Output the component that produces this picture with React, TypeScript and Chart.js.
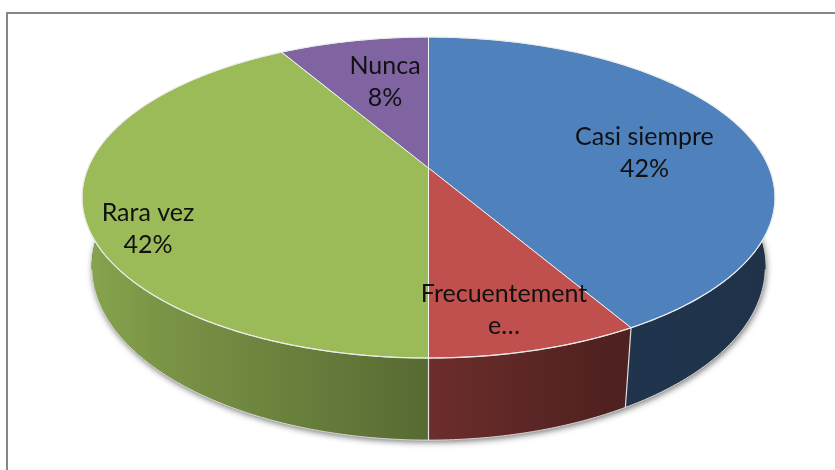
import React, { useEffect, useRef } from 'react';
import { Chart, registerables } from 'chart.js';

Chart.register(...registerables);

const categories = ['Casi siempre', 'Frecuentemente', 'Rara vez', 'Nunca'];
const counts = [5, 1, 5, 1];
const labelLines = [
  ['Casi siempre', '42%'],
  ['Frecuentement', 'e…'],
  ['Rara vez', '42%'],
  ['Nunca', '8%'],
];
const topColors = ['#4F81BD', '#C0504D', '#9BBB59', '#8064A2'];

// perspective projection of the pie disc (relative to the arc radius)
const A_RATIO = 340.6 / 131;
const B_RATIO = 155.1 / 131;
const PERSP = 0.1838;
const DEPTH_RATIO = 67 / 131;
const BOTTOM_X_SCALE = 0.972;
const LABEL_ANCHORS = [
  [0.634, -0.097],
  [0.2217, 0.9156],
  [-0.8236, 0.3933],
  [-0.1277, -0.5577],
];
const SIDE_STOPS: [number, number][] = [
  [0, 0.88],
  [0.1, 0.8],
  [0.49, 0.57],
  [0.76, 0.41],
  [1, 0.39],
];

function shade(hex: string, f: number) {
  const n = parseInt(hex.slice(1), 16);
  const r = Math.round(((n >> 16) & 255) * f);
  const g = Math.round(((n >> 8) & 255) * f);
  const b = Math.round((n & 255) * f);
  return `rgb(${r},${g},${b})`;
}

const pie3d = {
  id: 'pie3d',
  beforeDatasetsDraw(chart: any) {
    const ctx: CanvasRenderingContext2D = chart.ctx;
    const arcs = chart.getDatasetMeta(0).data as any[];
    if (!arcs.length) return false;
    const cx = arcs[0].x;
    const cy = arcs[0].y;
    const R = arcs[0].outerRadius;
    const a = R * A_RATIO;
    const b = R * B_RATIO;
    const D = R * DEPTH_RATIO;
    const k = PERSP;
    const colors = chart.data.datasets[0].backgroundColor as string[];

    const proj = (t: number, bottom: boolean) => {
      const u = Math.cos(t);
      const v = Math.sin(t);
      const w = 1 - k * v;
      const sx = bottom ? BOTTOM_X_SCALE : 1;
      return { x: cx + (sx * a * u) / w, y: cy + (b * v + (bottom ? D : 0)) / w };
    };
    const trace = (t0: number, t1: number, bottom: boolean, first: boolean) => {
      const n = Math.max(6, Math.ceil(Math.abs(t1 - t0) * 80));
      for (let i = 0; i <= n; i++) {
        const p = proj(t0 + ((t1 - t0) * i) / n, bottom);
        if (i === 0 && first) ctx.moveTo(p.x, p.y);
        else ctx.lineTo(p.x, p.y);
      }
    };
    const xMax = a / Math.sqrt(1 - k * k);

    ctx.save();

    // shadow under the pie
    ctx.save();
    ctx.shadowColor = 'rgba(0,0,0,0.55)';
    ctx.shadowBlur = 6;
    ctx.shadowOffsetY = 2;
    ctx.shadowOffsetX = 1;
    ctx.beginPath();
    trace(0, Math.PI * 2, true, true);
    ctx.closePath();
    ctx.fillStyle = '#333';
    ctx.fill();
    ctx.restore();

    // sides
    arcs.forEach((arc, i) => {
      const a0 = Math.max(arc.startAngle, -0.1);
      const a1 = Math.min(arc.endAngle, Math.PI + 0.1);
      if (a1 <= a0) return;
      const g = ctx.createLinearGradient(cx - xMax, 0, cx + xMax, 0);
      SIDE_STOPS.forEach(([t, f]) => g.addColorStop(t, shade(colors[i], f)));
      ctx.beginPath();
      trace(a0, a1, false, true);
      trace(a1, a0, true, false);
      ctx.closePath();
      ctx.fillStyle = g;
      ctx.fill();
    });

    // side edges
    ctx.strokeStyle = 'rgba(255,255,255,0.85)';
    ctx.lineWidth = 1.2;
    arcs.forEach((arc) => {
      const t = arc.startAngle;
      if (t > 0 && t < Math.PI) {
        const p = proj(t, false);
        const q = proj(t, true);
        ctx.beginPath();
        ctx.moveTo(p.x, p.y);
        ctx.lineTo(q.x, q.y);
        ctx.stroke();
      }
    });
    ctx.strokeStyle = 'rgba(230,230,230,0.9)';
    ctx.lineWidth = 1;
    ctx.beginPath();
    trace(0.2, Math.PI - 0.2, true, true);
    ctx.stroke();

    // top faces
    arcs.forEach((arc, i) => {
      ctx.beginPath();
      ctx.moveTo(cx, cy);
      trace(arc.startAngle, arc.endAngle, false, false);
      ctx.closePath();
      ctx.fillStyle = colors[i];
      ctx.fill();
      ctx.strokeStyle = 'rgba(255,255,255,0.85)';
      ctx.lineWidth = 1;
      ctx.stroke();
    });
    ctx.beginPath();
    trace(0, Math.PI * 2, false, true);
    ctx.closePath();
    ctx.strokeStyle = 'rgba(235,235,235,0.95)';
    ctx.lineWidth = 1.2;
    ctx.stroke();

    // labels
    ctx.font = '25px Lato';
    ctx.fillStyle = '#111';
    ctx.textAlign = 'center';
    ctx.textBaseline = 'middle';
    labelLines.forEach((lines, i) => {
      const [ax, ay] = LABEL_ANCHORS[i];
      const x = cx + ax * a;
      const y = cy + ay * b;
      ctx.fillText(lines[0], x, y - 16);
      ctx.fillText(lines[1], x, y + 16);
    });

    ctx.restore();
    return false;
  },
};

export default function App() {
  const ref = useRef<HTMLCanvasElement>(null);
  useEffect(() => {
    const chart = new Chart(ref.current as HTMLCanvasElement, {
      type: 'pie',
      data: {
        labels: categories,
        datasets: [
          {
            data: counts,
            backgroundColor: topColors,
            borderWidth: 0,
            hoverOffset: 0,
          },
        ],
      },
      options: {
        responsive: false,
        animation: false,
        events: [],
        layout: { padding: { top: 37, bottom: 171, left: 22, right: 0 } },
        plugins: { legend: { display: false }, tooltip: { enabled: false } },
      },
      plugins: [pie3d as any],
    });
    return () => chart.destroy();
  }, []);
  return (
    <div
      style={{
        position: 'fixed',
        left: 0,
        top: 0,
        width: 835,
        height: 470,
        overflow: 'hidden',
        background: '#fff',
      }}
    >
      <div
        style={{
          position: 'absolute',
          left: 6,
          top: 12,
          width: 900,
          height: 600,
          border: '2px solid #878787',
        }}
      />
      <canvas
        ref={ref}
        width={835}
        height={470}
        style={{ position: 'absolute', left: 0, top: 0 }}
      />
    </div>
  );
}
